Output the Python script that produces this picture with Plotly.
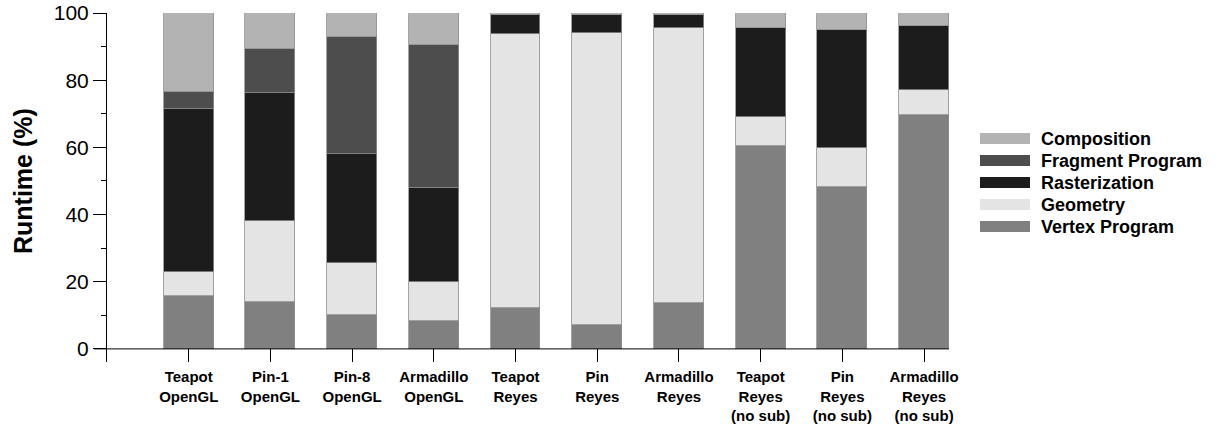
import plotly.graph_objects as go

# Per-scene runtime breakdown (percent of total frame time)
categories = [
    "Teapot<br>OpenGL", "Pin-1<br>OpenGL", "Pin-8<br>OpenGL", "Armadillo<br>OpenGL",
    "Teapot<br>Reyes", "Pin<br>Reyes", "Armadillo<br>Reyes",
    "Teapot<br>Reyes<br>(no sub)", "Pin<br>Reyes<br>(no sub)", "Armadillo<br>Reyes<br>(no sub)",
]
vertex_program = [15.7, 13.9, 10.2, 8.4, 12.3, 7.2, 13.6, 60.3, 48.1, 69.5]
geometry = [7.2, 24.2, 15.5, 11.4, 81.5, 86.9, 81.9, 8.6, 11.6, 7.5]
rasterization = [48.5, 38.0, 32.3, 28.0, 5.5, 5.4, 3.8, 26.6, 35.3, 19.0]
fragment_program = [5.0, 13.2, 35.0, 42.6, 0.0, 0.0, 0.0, 0.0, 0.0, 0.0]
composition = [23.6, 10.7, 7.0, 9.6, 0.7, 0.5, 0.7, 4.5, 5.0, 4.0]

series_names = ["Vertex Program", "Geometry", "Rasterization", "Fragment Program", "Composition"]
series_values = [vertex_program, geometry, rasterization, fragment_program, composition]
series_colors = ["#808080", "#e4e4e4", "#1c1c1c", "#4d4d4d", "#b3b3b3"]

FONT = "Liberation Sans, Arial, sans-serif"
W, H = 1215, 427
L, R, T, B = 107, 949, 13, 362          # plot area in pixels
PW, PH = R - L, B - T

def px(x):
    return (x - L) / PW

def py(y):
    return (B - y) / PH

fig = go.Figure()
xs = list(range(len(categories)))
for name, vals, col in zip(series_names, series_values, series_colors):
    fig.add_trace(go.Bar(
        x=xs, y=vals, name=name, width=0.61,
        marker=dict(color=col, line=dict(color="#8e8e8e", width=0.8)),
        showlegend=False,
    ))

# baseline at zero
fig.add_shape(type="line", xref="paper", yref="y", x0=px(94), x1=1, y0=0, y1=0,
              line=dict(color="black", width=1))

# legend drawn as swatches + labels (top to bottom)
legend_top = 138.5
for i, idx in enumerate(reversed(range(len(series_names)))):
    cy = legend_top + 22 * i
    fig.add_shape(type="rect", xref="paper", yref="paper",
                  x0=px(980), x1=px(1030), y0=py(cy + 5.5), y1=py(cy - 5.5),
                  fillcolor=series_colors[idx], line=dict(width=0))
    fig.add_annotation(xref="paper", yref="paper", x=px(1039), y=py(cy),
                       text="<b>%s</b>" % series_names[idx], showarrow=False,
                       xanchor="left", yanchor="middle",
                       font=dict(family=FONT, size=18, color="black"))

# y-axis title
fig.add_annotation(xref="paper", yref="paper", x=px(23), y=py(181),
                   text="<b>Runtime (%)</b>", textangle=-90, showarrow=False,
                   xanchor="center", yanchor="middle",
                   font=dict(family=FONT, size=25, color="black"))

fig.update_layout(
    barmode="stack",
    width=W, height=H,
    margin=dict(l=L, r=W - R, t=T, b=H - B, pad=0, autoexpand=False),
    plot_bgcolor="white", paper_bgcolor="white",
    font=dict(family=FONT, color="black"),
    bargap=0,
)
fig.update_xaxes(
    range=[-1.0, 9.305], tickmode="array", tickvals=xs,
    ticktext=["<b>%s</b>" % c for c in categories],
    ticks="inside", ticklen=13, tickcolor="black", tickwidth=1,
    showline=False, showgrid=False, zeroline=False, automargin=False,
    ticklabelstandoff=4,
    tickfont=dict(family=FONT, size=15, color="black"),
)
fig.update_yaxes(
    range=[-3.9, 100], tickvals=[0, 20, 40, 60, 80, 100],
    ticks="outside", ticklen=13, tickcolor="black", tickwidth=1,
    minor=dict(dtick=10, tick0=0, ticks="outside", ticklen=5, tickcolor="black", tickwidth=1),
    showline=True, linecolor="black", linewidth=1,
    showgrid=False, zeroline=False, automargin=False,
    tickfont=dict(family=FONT, size=21, color="black"),
)

fig.write_html("out.html")
